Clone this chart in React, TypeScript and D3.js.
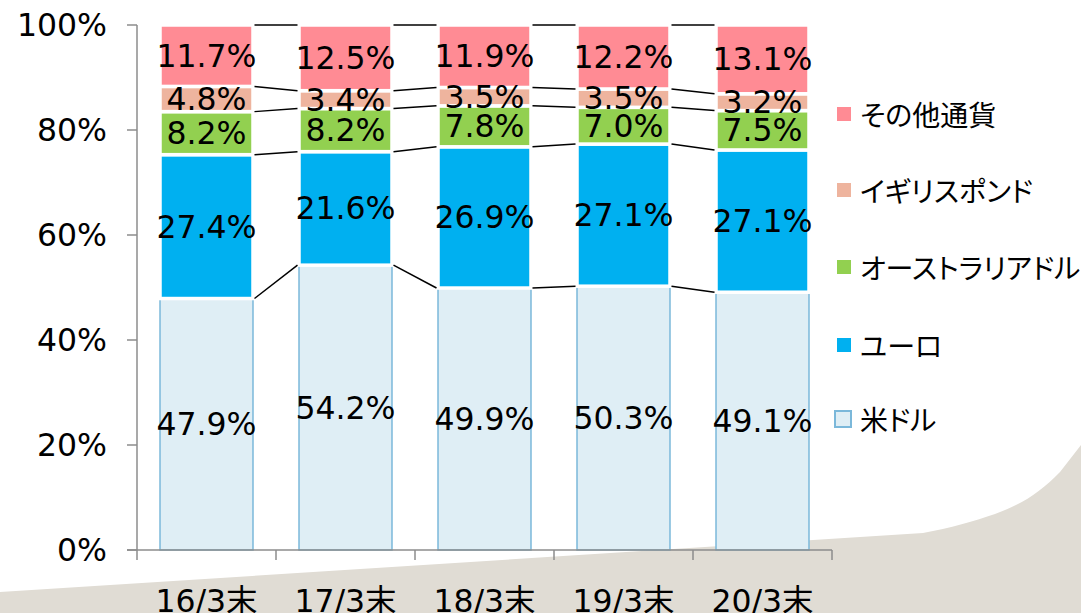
import React from "react";
import * as d3 from "d3";

const categories = ["16/3末", "17/3末", "18/3末", "19/3末", "20/3末"];
const seriesNames = ["米ドル", "ユーロ", "オーストラリアドル", "イギリスポンド", "その他通貨"];
const usd = [47.9, 54.2, 49.9, 50.3, 49.1];
const eur = [27.4, 21.6, 26.9, 27.1, 27.1];
const aud = [8.2, 8.2, 7.8, 7.0, 7.5];
const gbp = [4.8, 3.4, 3.5, 3.5, 3.2];
const other = [11.7, 12.5, 11.9, 12.2, 13.1];
const yTicks = [0, 0.2, 0.4, 0.6, 0.8, 1.0];

const colors = ["#DFEEF5", "#00B0F0", "#92D050", "#EEB49E", "#FF8B94"];
const usdStroke = "#7BB8DA";

const W = 1081;
const H = 613;

export default function App() {
  const seriesValues = [usd, eur, aud, gbp, other];
  const rows = categories.map((c, i) => {
    const r: any = { cat: c };
    seriesNames.forEach((s, k) => (r[s] = seriesValues[k][i]));
    return r;
  });
  const stack = d3.stack<any>().keys(seriesNames).offset(d3.stackOffsetExpand);
  const stacked = stack(rows);

  const x = d3
    .scaleBand<string>()
    .domain(categories)
    .range([137, 832])
    .paddingInner(0.331)
    .paddingOuter(0.1655);
  const y = d3.scaleLinear().domain([0, 1]).range([550, 25]);
  const bw = x.bandwidth();
  const step = x.step();
  const fmt = d3.format(".0%");

  const numFont = "'DejaVu Sans', Verdana, sans-serif";
  const jpFont = "'Noto Sans CJK JP', sans-serif";
  const catFont = "'DejaVu Sans', 'Noto Sans CJK JP', sans-serif";

  const connectors: { x1: number; x2: number; y1: number; y2: number; key: string }[] = [];
  stacked.forEach((layer, k) => {
    for (let i = 0; i < categories.length - 1; i++) {
      connectors.push({
        key: `c${k}-${i}`,
        x1: (x(categories[i]) as number) + bw + 1.5,
        x2: (x(categories[i + 1]) as number) - 1.5,
        y1: y(layer[i][1]),
        y2: y(layer[i + 1][1]),
      });
    }
  });

  const legendOrder = [4, 3, 2, 1, 0];
  const legendY = [114, 190, 267, 345, 419];

  return (
    <svg
      width={W}
      height={H}
      style={{ position: "absolute", left: 0, top: 0, background: "#fff" }}
    >
      <path
        d="M0,592 L923,533 C950,528 975,521 995,514 C1020,505 1040,493 1060,472 L1081,445 L1081,613 L0,613 Z"
        fill="#E0DCD4"
      />
      {stacked.map((layer, k) => (
        <g key={layer.key}>
          {layer.map((d, i) => {
            const x0 = x(categories[i]) as number;
            const y0 = y(d[1]);
            const h = y(d[0]) - y(d[1]);
            return (
              <rect
                key={i}
                x={x0}
                y={y0}
                width={bw}
                height={h}
                fill={colors[k]}
                stroke={k === 0 ? usdStroke : "#fff"}
                strokeWidth={k === 0 ? 1.5 : 3.5}
              />
            );
          })}
        </g>
      ))}
      {connectors.map((c) => (
        <line key={c.key} x1={c.x1} x2={c.x2} y1={c.y1} y2={c.y2} stroke="#000" strokeWidth={1.5} />
      ))}
      {stacked.map((layer, k) =>
        layer.map((d, i) => (
          <text
            key={`l${k}-${i}`}
            x={(x(categories[i]) as number) + bw / 2}
            y={(y(d[0]) + y(d[1])) / 2}
            textAnchor="middle"
            dominantBaseline="central"
            fontFamily={numFont}
            fontSize={31.5}
            fill="#000"
          >
            {seriesValues[k][i].toFixed(1)}%
          </text>
        ))
      )}
      <line x1={137} x2={137} y1={y(1)} y2={y(0)} stroke="#8C8C8C" strokeWidth={1.5} />
      {yTicks.map((t) => (
        <g key={t}>
          <line x1={127} x2={137} y1={y(t)} y2={y(t)} stroke="#8C8C8C" strokeWidth={1.5} />
          <text
            x={107}
            y={y(t)}
            textAnchor="end"
            dominantBaseline="central"
            fontFamily={numFont}
            fontSize={31.5}
            fill="#000"
          >
            {fmt(t)}
          </text>
        </g>
      ))}
      <line x1={127} x2={832} y1={y(0)} y2={y(0)} stroke="#8C8C8C" strokeWidth={1.5} />
      {d3.range(categories.length + 1).map((i) => {
        const xx = 137 + i * step;
        return <line key={i} x1={xx} x2={xx} y1={y(0)} y2={y(0) + 10} stroke="#8C8C8C" strokeWidth={1.5} />;
      })}
      {categories.map((c) => (
        <text
          key={c}
          x={(x(c) as number) + bw / 2}
          y={612}
          textAnchor="middle"
          fontFamily={catFont}
          fontSize={31.5}
          fill="#000"
        >
          {c}
        </text>
      ))}
      {legendOrder.map((k, j) => {
        const cy = legendY[j];
        return (
          <g key={k}>
            {k === 0 ? (
              <rect x={835} y={cy - 8} width={16} height={16} fill={colors[k]} stroke={usdStroke} strokeWidth={2} />
            ) : (
              <rect x={837} y={cy - 7} width={14} height={14} fill={colors[k]} />
            )}
            <text
              x={860}
              y={cy}
              dominantBaseline="central"
              fontFamily={jpFont}
              fontSize={28}
              fill="#000"
              style={{ fontFeatureSettings: "'palt'" }}
            >
              {seriesNames[k]}
            </text>
          </g>
        );
      })}
    </svg>
  );
}
